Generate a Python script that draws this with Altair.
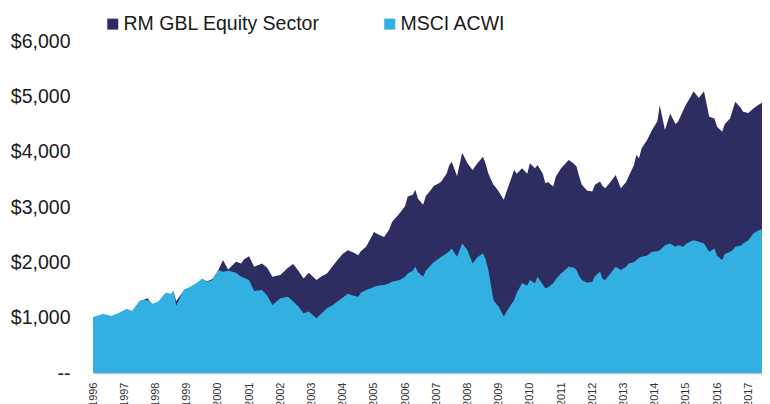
import altair as alt
import pandas as pd

# ---- data (month, value in $) ----
dates = [
    "1996-01", "1996-03", "1996-05", "1996-08", "1996-11", "1997-02", "1997-04", "1997-07",
    "1997-10", "1997-12", "1998-02", "1998-05", "1998-07", "1998-08", "1998-09", "1998-12",
    "1999-02", "1999-05", "1999-07", "1999-09", "1999-11", "2000-01", "2000-03", "2000-05",
    "2000-08", "2000-10", "2000-11", "2001-01", "2001-03", "2001-06", "2001-08", "2001-10",
    "2002-01", "2002-04", "2002-06", "2002-08", "2002-10", "2002-12", "2003-03", "2003-05",
    "2003-07", "2003-09", "2003-11", "2004-01", "2004-03", "2004-05", "2004-07", "2004-08",
    "2004-10", "2004-12", "2005-01", "2005-03", "2005-05", "2005-07", "2005-08", "2005-11",
    "2006-01", "2006-02", "2006-04", "2006-05", "2006-06", "2006-08", "2006-09", "2006-11",
    "2006-12", "2007-02", "2007-03", "2007-05", "2007-06", "2007-07", "2007-09", "2007-11",
    "2008-01", "2008-03", "2008-05", "2008-07", "2008-08", "2008-09", "2008-10", "2008-11",
    "2008-12", "2009-01", "2009-03", "2009-05", "2009-07", "2009-08", "2009-10", "2009-12",
    "2010-01", "2010-03", "2010-04", "2010-06", "2010-07", "2010-08", "2010-10", "2010-11",
    "2011-01", "2011-03", "2011-04", "2011-06", "2011-07", "2011-08", "2011-09", "2011-11",
    "2012-01", "2012-02", "2012-04", "2012-05", "2012-06", "2012-08", "2012-10", "2012-12",
    "2013-02", "2013-03", "2013-05", "2013-06", "2013-07", "2013-08", "2013-10", "2013-12",
    "2014-02", "2014-03", "2014-05", "2014-07", "2014-09", "2014-10", "2014-12", "2015-01",
    "2015-03", "2015-04", "2015-06", "2015-08", "2015-10", "2015-12", "2016-01", "2016-03",
    "2016-04", "2016-06", "2016-07", "2016-08", "2016-10", "2016-11", "2017-01", "2017-03",
    "2017-05", "2017-07", "2017-08",
]

rm_gbl_equity = [
    1000, 1030, 1050, 1020, 1070, 1140, 1100, 1290,
    1350, 1230, 1270, 1430, 1410, 1470, 1300, 1490,
    1530, 1610, 1690, 1660, 1700, 1840, 2040, 1870,
    2010, 1980, 2050, 2110, 1920, 1980, 1900, 1740,
    1770, 1900, 1970, 1850, 1710, 1810, 1680, 1750,
    1800, 1920, 2040, 2150, 2220, 2180, 2130, 2200,
    2280, 2450, 2550, 2500, 2460, 2600, 2730, 2890,
    3020, 3190, 3220, 3310, 3150, 3040, 3200, 3310,
    3380, 3430, 3460, 3600, 3750, 3820, 3560, 3980,
    3790, 3670, 3800, 3910, 3780, 3610, 3500, 3400,
    3350, 3280, 3130, 3400, 3670, 3600, 3700, 3600,
    3790, 3700, 3760, 3600, 3430, 3450, 3370, 3550,
    3700, 3800, 3850, 3780, 3730, 3550, 3400, 3300,
    3280, 3400, 3460, 3380, 3340, 3450, 3580, 3340,
    3450, 3550, 3750, 3940, 3880, 4060, 4200, 4390,
    4550, 4840, 4390, 4690, 4500, 4540, 4750, 4850,
    5000, 5090, 4970, 5090, 4630, 4600, 4450, 4360,
    4500, 4600, 4750, 4900, 4800, 4720, 4700, 4780,
    4850, 4900, 4880,
]

msci_acwi = [
    1010, 1040, 1070, 1030, 1090, 1160, 1120, 1310,
    1320, 1250, 1290, 1450, 1430, 1490, 1220, 1510,
    1550, 1630, 1710, 1650, 1680, 1860, 1830, 1850,
    1810, 1740, 1720, 1680, 1480, 1500, 1400, 1230,
    1350, 1380, 1290, 1200, 1080, 1110, 990, 1080,
    1170, 1220, 1290, 1360, 1430, 1400, 1380, 1450,
    1500, 1530, 1560, 1580, 1590, 1620, 1650, 1680,
    1740, 1800, 1850, 1920, 1820, 1740, 1850, 1950,
    2000, 2070, 2100, 2160, 2200, 2250, 2100, 2340,
    2220, 1980, 2100, 2160, 2050, 1860, 1600, 1320,
    1250, 1200, 1020, 1180, 1320, 1450, 1620, 1580,
    1680, 1620, 1740, 1600, 1530, 1550, 1620, 1700,
    1800, 1880, 1920, 1900, 1860, 1750, 1680, 1630,
    1650, 1750, 1830, 1700, 1680, 1800, 1920, 1860,
    1920, 1980, 2000, 2040, 2080, 2100, 2120, 2190,
    2200, 2220, 2310, 2340, 2280, 2310, 2280, 2330,
    2380, 2400, 2370, 2340, 2190, 2250, 2120, 2040,
    2150, 2190, 2220, 2280, 2300, 2340, 2400, 2520,
    2580, 2610, 2640,
]

series_names = ["RM GBL Equity Sector", "MSCI ACWI"]
series_colors = ["#2e2d62", "#33b0e2"]
year_ticks = list(range(1996, 2018))
y_ticks = [0, 1000, 2000, 3000, 4000, 5000, 6000]

# ---- long table ----
when = pd.to_datetime(dates, format="%Y-%m")
df = pd.concat(
    [
        pd.DataFrame({"date": when, "value": rm_gbl_equity, "series": series_names[0]}),
        pd.DataFrame({"date": when, "value": msci_acwi, "series": series_names[1]}),
    ],
    ignore_index=True,
)

FONT = "Liberation Sans"

x_enc = alt.X(
    "date:T",
    scale=alt.Scale(domain=[alt.DateTime(year=1996, month=1, date=1),
                            alt.DateTime(year=2017, month=6, date=10)]),
    axis=alt.Axis(
        values=[alt.DateTime(year=y, month=1, date=1) for y in year_ticks],
        format="%Y", labelAngle=270, labelFontSize=11, labelColor="#333333",
        labelFont=FONT, labelPadding=9, ticks=False, tickSize=0,
        domainColor="#c4c4c4", domainWidth=1.5, grid=False, title=None,
        labelOverlap=False, labelFlush=False,
    ),
)
y_enc = alt.Y(
    "value:Q",
    scale=alt.Scale(domain=[0, 6000], nice=False),
    axis=alt.Axis(
        values=y_ticks,
        labelExpr="datum.value == 0 ? '--' : '$' + format(datum.value, ',')",
        labelFontSize=19.5, labelColor="#1a1a1a", labelFont=FONT,
        labelPadding=23, ticks=False, tickSize=0, domain=False, grid=False, title=None,
    ),
)
color_enc = alt.Color(
    "series:N",
    scale=alt.Scale(domain=series_names, range=series_colors),
    legend=alt.Legend(
        orient="none", legendX=10, legendY=-27, direction="horizontal", title=None,
        symbolType="square", symbolSize=121, symbolStrokeWidth=0,
        labelFontSize=19.5, labelFont=FONT, labelColor="#1a1a1a", labelLimit=400,
        labelOffset=1, columnPadding=60, padding=0,
    ),
)

base = alt.Chart(df).encode(x=x_enc, y=y_enc, color=color_enc)

back = base.transform_filter(alt.datum.series == series_names[0]).mark_area(clip=True, opacity=1)
front = base.transform_filter(alt.datum.series == series_names[1]).mark_area(clip=True, opacity=1)

chart = (
    alt.layer(back, front)
    .properties(
        width=669, height=332,
        autosize=alt.AutoSizeParams(type="none"),
        padding={"left": 85, "top": 33, "right": 0, "bottom": 34},
        background="white",
    )
    .configure_view(stroke=None)
)

chart.save("out.html", embed_options={"renderer": "svg", "actions": False})
